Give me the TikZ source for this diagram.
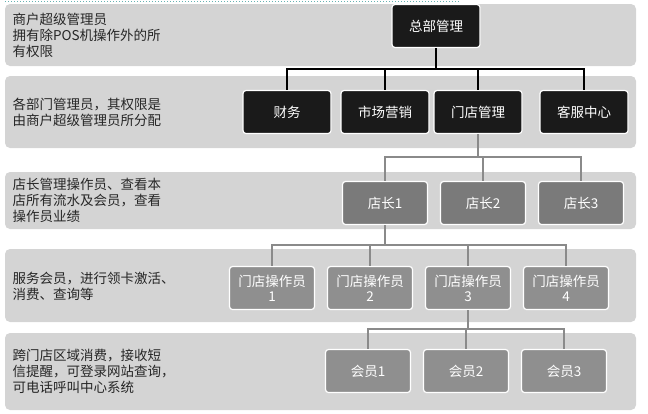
\documentclass[tikz,border=0pt]{standalone}
\usepackage{fontspec}
\setmainfont{Noto Sans CJK SC}
\usetikzlibrary{positioning}
\definecolor{bandgray}{HTML}{D4D4D4}
\definecolor{darkbox}{HTML}{1A1A1A}
\definecolor{midbox}{HTML}{7A7A7A}
\definecolor{lightbox}{HTML}{8F8F8F}
\definecolor{linegray}{HTML}{8A8A8A}
\tikzset{
	band/.style={fill=bandgray, rounded corners=5pt},
	note/.style={anchor=west, align=left, font=\fontsize{13.5}{16}\selectfont, text=black!85},
	topbox/.style={draw=white, line width=1.2pt, fill=darkbox, rounded corners=3pt, text=white, minimum width=88pt, minimum height=43pt, font=\fontsize{13.5}{15}\selectfont},
	shopbox/.style={topbox, fill=midbox, minimum width=85pt, minimum height=43pt},
	staffbox/.style={topbox, fill=lightbox, minimum width=85pt, minimum height=43pt, align=center, inner sep=1pt, font=\fontsize{13.5}{15}\selectfont},
	link/.style={line width=1.6pt, draw=black},
	glink/.style={line width=1.6pt, draw=linegray}
}
\begin{document}
\begin{tikzpicture}[x=1pt,y=-1pt]
	\useasboundingbox (0,0) rectangle (648,413);
	\draw[teal!60, dotted, line width=1pt] (5,1) -- (460,1);
	
	%bande
	\fill[band] (5,4) rectangle (636,66);
	\fill[band] (5,76) rectangle (636,148);
	\fill[band] (5,172) rectangle (636,229);
	\fill[band] (5,249) rectangle (636,322);
	\fill[band] (5,333) rectangle (636,410);
	
	\node[note] (n1) at (9,35) {商户超级管理员\\拥有除POS机操作外的所\\有权限};
	\node[note] (n2) at (9,112) {各部门管理员，其权限是\\由商户超级管理员所分配};
	\node[note] (n3) at (9,200) {店长管理操作员、查看本\\店所有流水及会员，查看\\操作员业绩};
	\node[note] (n4) at (9,286) {服务会员，进行领卡激活、\\消费、查询等};
	\node[note] (n5) at (9,371) {跨门店区域消费，接收短\\信提醒，可登录网站查询，\\可电话呼叫中心系统};
	
	%节点
	\node[topbox] (zb) at (436,26) {总部管理};
	\node[topbox] (cw) at (287,112) {财务};
	\node[topbox] (sc) at (385,112) {市场营销};
	\node[topbox] (md) at (478,112) {门店管理};
	\node[topbox] (kf) at (584,112) {客服中心};
	
	\node[shopbox] (dz1) at (385,203) {店长1};
	\node[shopbox] (dz2) at (483,203) {店长2};
	\node[shopbox] (dz3) at (581,203) {店长3};
	
	\node[staffbox] (cz1) at (272,288) {门店操作员\\1};
	\node[staffbox] (cz2) at (370,288) {门店操作员\\2};
	\node[staffbox] (cz3) at (468,288) {门店操作员\\3};
	\node[staffbox] (cz4) at (566,288) {门店操作员\\4};
	
	\node[staffbox] (hy1) at (368,371) {会员1};
	\node[staffbox] (hy2) at (466,371) {会员2};
	\node[staffbox] (hy3) at (564,371) {会员3};
	
	%连线
	\foreach \c in {cw,sc,md,kf}
		\draw[link] (zb.south) -- (zb.south |- 0,69) -| (\c.north);
	\foreach \c in {dz1,dz2,dz3}
		\draw[glink] (md.south) -- (md.south |- 0,157) -| (\c.north);
	\foreach \c in {cz1,cz2,cz3,cz4}
		\draw[glink] (dz1.south) -- (dz1.south |- 0,245) -| (\c.north);
	\foreach \c in {hy1,hy2,hy3}
		\draw[glink] (cz3.south) -- (cz3.south |- 0,329) -| (\c.north);
\end{tikzpicture}
\end{document}
